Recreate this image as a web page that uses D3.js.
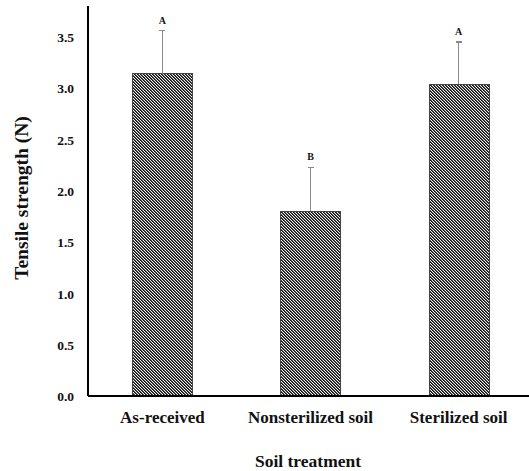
<!DOCTYPE html>
<html>
<head>
<meta charset="utf-8">
<script src="https://cdn.jsdelivr.net/npm/d3@7"></script>
<style>
  html, body { margin: 0; padding: 0; background: #fff; }
  svg text { font-family: "Liberation Serif", "Times New Roman", serif; font-weight: bold; fill: #111; }
</style>
</head>
<body>
<div id="chart"></div>
<script>
const categories = ["As-received", "Nonsterilized soil", "Sterilized soil"];
const means = [3.14, 1.80, 3.04];
const errors = [0.42, 0.43, 0.41];
const letters = ["A", "B", "A"];
const yTicks = [0.0, 0.5, 1.0, 1.5, 2.0, 2.5, 3.0, 3.5];

const width = 529, height = 471;
const margin = { top: 6, right: -4, bottom: 75, left: 88 };

const svg = d3.select("#chart").append("svg")
  .attr("width", width)
  .attr("height", height)
  .attr("shape-rendering", "crispEdges");

// fine pixel diagonal hatch, like the Excel pattern fill
const defs = svg.append("defs");
const pat = defs.append("pattern")
  .attr("id", "hatch")
  .attr("patternUnits", "userSpaceOnUse")
  .attr("width", 3)
  .attr("height", 3);
pat.append("rect").attr("width", 3).attr("height", 3).attr("fill", "#f0f0f0");
[0, 1, 2].forEach(i => {
  pat.append("rect").attr("x", i).attr("y", i).attr("width", 1).attr("height", 1).attr("fill", "#111");
  pat.append("rect").attr("x", (i + 1) % 3).attr("y", i).attr("width", 1).attr("height", 1).attr("fill", "#4e4e4e");
});

const x = d3.scaleBand()
  .domain(categories)
  .range([margin.left, width - margin.right])
  .paddingInner(0.595)
  .paddingOuter(0.3);

const y = d3.scaleLinear()
  .domain([0, 3.8])
  .range([height - margin.bottom, height - margin.bottom - 3.8 * 102.6]);

const barW = 60;
const cx = d => x(d) + x.bandwidth() / 2;

// bars
svg.append("g")
  .selectAll("rect")
  .data(categories)
  .join("rect")
  .attr("x", d => Math.round(cx(d) - barW / 2))
  .attr("y", (d, i) => y(means[i]))
  .attr("width", barW)
  .attr("height", (d, i) => y(0) - y(means[i]))
  .attr("fill", "url(#hatch)")
  .attr("stroke", "#444")
  .attr("stroke-width", 1);

// error bars (upper only)
const eb = svg.append("g").attr("stroke", "#8a8a8a").attr("stroke-width", 1.3);
eb.selectAll("line.v")
  .data(categories)
  .join("line")
  .attr("class", "v")
  .attr("x1", cx).attr("x2", cx)
  .attr("y1", (d, i) => y(means[i]))
  .attr("y2", (d, i) => y(means[i] + errors[i]));
eb.selectAll("line.c")
  .data(categories)
  .join("line")
  .attr("class", "c")
  .attr("x1", d => cx(d) - 3).attr("x2", d => cx(d) + 3)
  .attr("y1", (d, i) => y(means[i] + errors[i]))
  .attr("y2", (d, i) => y(means[i] + errors[i]));

// significance letters
svg.append("g")
  .selectAll("text")
  .data(categories)
  .join("text")
  .attr("x", cx)
  .attr("y", (d, i) => y(means[i] + errors[i]) - 7)
  .attr("text-anchor", "middle")
  .attr("font-size", 10)
  .text((d, i) => letters[i]);

// axes
const yAxis = d3.axisLeft(y)
  .tickValues(yTicks)
  .tickFormat(d3.format(".1f"))
  .tickSize(0)
  .tickPadding(14);
const gy = svg.append("g")
  .attr("transform", `translate(${margin.left},0)`)
  .call(yAxis);
gy.select(".domain").remove();
gy.selectAll("text").attr("font-size", 13.5).attr("font-family", null).attr("dy", "0.35em");

svg.append("line")
  .attr("x1", margin.left).attr("x2", margin.left)
  .attr("y1", margin.top).attr("y2", y(0))
  .attr("stroke", "#000").attr("stroke-width", 1.5);
svg.append("line")
  .attr("x1", margin.left).attr("x2", width)
  .attr("y1", y(0)).attr("y2", y(0))
  .attr("stroke", "#000").attr("stroke-width", 1.5);

const gx = svg.append("g")
  .attr("transform", `translate(0,${y(0)})`)
  .call(d3.axisBottom(x).tickSize(0).tickPadding(15));
gx.select(".domain").remove();
gx.selectAll("text").attr("font-size", 17).attr("font-family", null);

// titles
svg.append("text")
  .attr("x", 308)
  .attr("y", 467)
  .attr("text-anchor", "middle")
  .attr("font-size", 17.5)
  .text("Soil treatment");

svg.append("text")
  .attr("transform", "translate(28,198) rotate(-90)")
  .attr("text-anchor", "middle")
  .attr("font-size", 19.5)
  .text("Tensile strength (N)");
</script>
</body>
</html>
